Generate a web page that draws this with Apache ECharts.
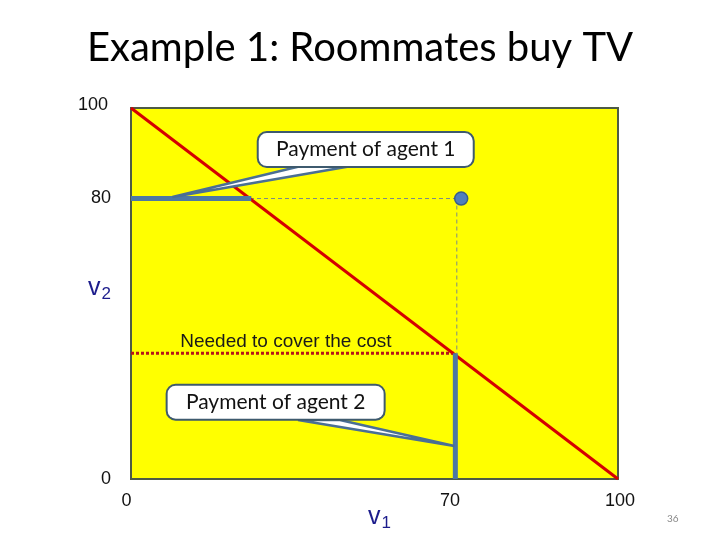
<!DOCTYPE html>
<html>
<head>
<meta charset="utf-8">
<script src="https://cdn.jsdelivr.net/npm/echarts@6/dist/echarts.min.js"></script>
<style>
  html, body { margin: 0; padding: 0; background: #fff; }
  #chart1 { width: 720px; height: 540px; }
</style>
</head>
<body>
<div id="chart1"></div>
<script>
// tick labels (where the slide puts them on its 0..100 axes)
var xTickValues = [0, 51, 65.5, 100];
var xTickText = ['0', 'v1', '70', '100'];
var yTickValues = [0, 51.5, 75.6, 100];
var yTickText = ['0', 'v2', '80', '100'];

// lines and points, in axis units
var costLine = [[0, 100], [100, 0]];
var agentPoint = [[67.8, 75.6]];
var guideH = [[0, 75.6], [67.8, 75.6]];
var guideV = [[66.9, 75.6], [66.9, 33.9]];
var neededLine = [[0, 33.9], [66.6, 33.9]];
var pay1Line = [[0, 75.6], [24.7, 75.6]];
var pay2Line = [[66.6, 0], [66.6, 33.9]];

// callouts: box centre + pointer wedge (base, base, tip)
var callout1 = [48.2, 88.8];
var callout2 = [29.7, 20.7];
var wedge1 = [[34.7, 84.3], [45, 84.3], [8.5, 76.0]];
var wedge2 = [[34.3, 15.9], [42.9, 15.9], [66.4, 8.9]];
var neededText = [31.8, 37.1];

var chart1 = echarts.init(document.getElementById('chart1'));

function lineSeries(data, color, width, type, z) {
    return {
        type: 'line',
        data: data,
        symbol: 'none',
        silent: true,
        z: z,
        lineStyle: { color: color, width: width, type: type }
    };
}

function wedgeSeries(pts) {
    return {
        type: 'custom',
        silent: true,
        z: 5,
        data: [0],
        renderItem: function (params, api) {
            var p = pts.map(function (d) { return api.coord(d); });
            return {
                type: 'polygon',
                shape: { points: p },
                style: { fill: '#ffffff', stroke: '#4a6f94', lineWidth: 2.5 }
            };
        }
    };
}

function calloutSeries(pos, text, w) {
    return {
        type: 'scatter',
        data: [pos],
        symbolSize: 0,
        silent: true,
        z: 6,
        itemStyle: { opacity: 1 },
        label: {
            show: true,
            position: 'inside',
            formatter: text,
            fontFamily: 'Lato',
            fontSize: 21,
            color: '#111',
            backgroundColor: '#ffffff',
            borderColor: '#3e5a6e',
            borderWidth: 2,
            borderRadius: 8,
            width: w,
            align: 'center',
            padding: [6, 8]
        }
    };
}

var vRich = {
    v: { fontFamily: 'Liberation Sans', fontSize: 25, color: '#1c1c8c' },
    s: { fontFamily: 'Liberation Sans', fontSize: 17, color: '#1c1c8c', padding: [13, 0, 0, 1] }
};

var option = {
    animation: false,
    title: [{
        text: 'Example 1: Roommates buy TV',
        left: 'center',
        top: 23,
        textStyle: { fontFamily: 'Lato', fontSize: 40, fontWeight: 'normal', color: '#000' }
    }, {
        text: '36',
        left: 662,
        top: 509,
        textStyle: { fontFamily: 'Lato', fontSize: 10, fontWeight: 'normal', color: '#888' }
    }],
    grid: {
        left: 131, top: 108, width: 487, height: 371,
        show: true,
        backgroundColor: '#ffff00',
        borderColor: '#4e5b45',
        borderWidth: 2
    },
    xAxis: {
        type: 'value', min: 0, max: 100,
        splitLine: { show: false },
        axisLine: { show: false },
        axisTick: { show: false },
        axisLabel: {
            customValues: xTickValues,
            margin: 13,
            fontFamily: 'Liberation Sans',
            fontSize: 18,
            color: '#111',
            formatter: function (value) {
                var i = xTickValues.indexOf(value);
                var t = xTickText[i];
                if (t === 'v1') return '{p|}{v|v}{s|1}';
                if (t === '0') return '{z|0}';
                if (t === '100') return '{h|100}';
                return t;
            },
            rich: {
                p: { width: 0, height: 50 },
                v: vRich.v,
                s: vRich.s,
                z: { fontSize: 18, color: '#111', padding: [0, 9, 0, 0] },
                h: { fontSize: 18, color: '#111', padding: [0, 0, 0, 4] }
            }
        }
    },
    yAxis: {
        type: 'value', min: 0, max: 100,
        splitLine: { show: false },
        axisLine: { show: false },
        axisTick: { show: false },
        axisLabel: {
            customValues: yTickValues,
            margin: 20,
            fontFamily: 'Liberation Sans',
            fontSize: 18,
            color: '#111',
            formatter: function (value) {
                var i = yTickValues.indexOf(value);
                var t = yTickText[i];
                if (t === 'v2') return '{v|v}{s|2}';
                if (t === '100') return '{h|100}';
                return t;
            },
            rich: {
                v: vRich.v,
                s: vRich.s,
                h: { fontSize: 18, color: '#111', padding: [0, 3, 6, 0] }
            }
        }
    },
    series: [
        lineSeries(guideH, '#7d8a88', 1, [4, 3], 2),
        lineSeries(guideV, '#7d8a88', 1, [4, 3], 2),
        lineSeries(neededLine, '#b3141a', 3, [3, 2], 3),
        lineSeries(costLine, '#d40000', 3, 'solid', 3),
        lineSeries(pay1Line, '#4d78a3', 5, 'solid', 4),
        lineSeries(pay2Line, '#4d78a3', 5, 'solid', 4),
        {
            type: 'scatter',
            data: agentPoint,
            symbolSize: 13,
            silent: true,
            z: 4,
            itemStyle: { color: '#4f7fbd', borderColor: '#385d8a', borderWidth: 1.5, opacity: 1 }
        },
        wedgeSeries(wedge1),
        wedgeSeries(wedge2),
        calloutSeries(callout1, 'Payment of agent 1', 198),
        calloutSeries(callout2, 'Payment of agent 2', 200),
        {
            type: 'scatter',
            data: [neededText],
            symbolSize: 0,
            silent: true,
            z: 6,
            itemStyle: { opacity: 1 },
            label: {
                show: true,
                position: 'inside',
                formatter: 'Needed to cover the cost',
                fontFamily: 'Liberation Sans',
                fontSize: 19,
                color: '#1a1a1a'
            }
        }
    ]
};
chart1.setOption(option, true);
</script>
</body>
</html>
